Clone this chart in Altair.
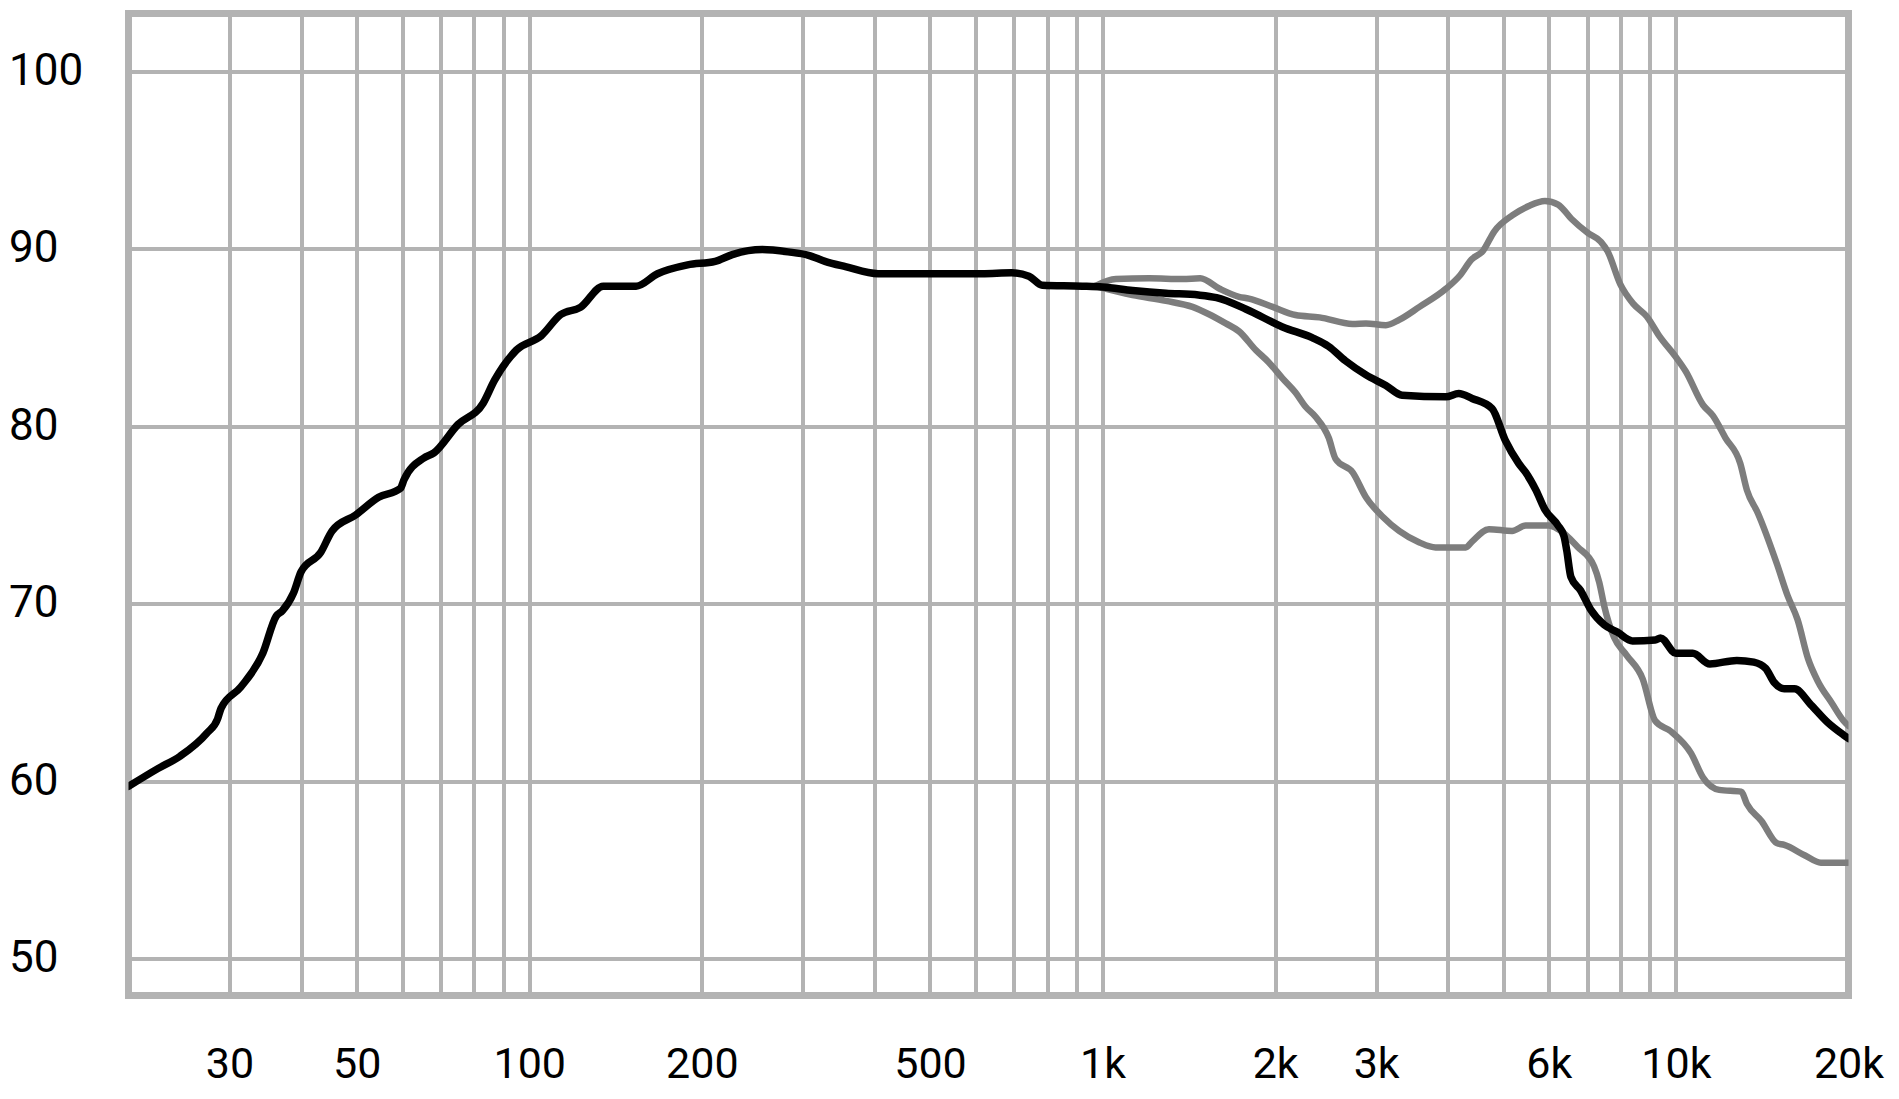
import altair as alt
import pandas as pd

# ---- data ----
on_f = [20, 22.5, 24.6, 27.4, 28.6, 29.0, 31.4, 34.3, 36.2, 37.1, 38.8, 40.0, 43.3, 45.3,
        49.8, 54.6, 59.6, 60.5, 65.4, 68.2, 75.1, 83.1, 87.0, 95.0, 104.9, 113.5, 122.8,
        134.6, 153.6, 167.4, 188.9, 211, 226, 241, 255, 283, 307, 328, 356, 406, 505, 616,
        694, 744, 785, 922, 1000, 1128, 1290, 1470, 1580, 1780, 2060, 2320, 2480, 2650,
        2880, 3120, 3330, 3970, 4180, 4410, 4780, 5040, 5320, 5470, 5700, 5910, 6230, 6380,
        6450, 6560, 6820, 7100, 7500, 7900, 8400, 9200, 9400, 10000, 10700, 11460, 12770,
        13670, 14340, 14830, 15450, 16100, 17200, 18400, 19600, 20000]
on_db = [59.7, 60.7, 61.4, 62.7, 63.5, 64.1, 65.3, 67.2, 69.3, 69.6, 70.6, 71.8, 72.9, 74.1,
         75.0, 76.0, 76.5, 77.0, 78.2, 78.5, 80.1, 81.3, 82.6, 84.3, 85.1, 86.3, 86.7,
         87.9, 87.9, 88.6, 89.1, 89.3, 89.68, 89.9, 89.96, 89.83, 89.64, 89.3, 89.0, 88.6, 88.6, 88.6,
         88.65, 88.46, 87.95, 87.9, 87.85, 87.66, 87.5, 87.4, 87.25, 86.6, 85.6, 85.0, 84.5, 83.7,
         82.9, 82.3, 81.75, 81.66, 81.85, 81.57, 81.0, 79.2, 77.9, 77.4, 76.4, 75.3, 74.4, 73.8,
         73.0, 71.5, 70.74, 69.67, 68.8, 68.4, 67.9, 67.95, 68.07, 67.2, 67.2, 66.6, 66.8,
         66.7, 66.35, 65.57, 65.2, 65.2, 64.3, 63.3, 62.6, 62.4]

up_f = [970, 1055, 1206, 1379, 1480, 1600, 1730, 1800, 1980, 2170, 2390, 2730, 2880, 3120,
        3290, 3570, 3970, 4200, 4400, 4610, 4820, 5190, 5540, 5910, 6230, 6570, 7020, 7400,
        7600, 8000, 8430, 8890, 9350, 10000, 10400, 11150, 11600, 12200, 12950, 13300, 13900,
        15000, 15660, 16300, 17000, 17700, 18700, 19600, 20000]
up_db = [87.9, 88.3, 88.34, 88.3, 88.34, 87.75, 87.3, 87.2, 86.73, 86.27, 86.14, 85.77, 85.8, 85.7,
         86.0, 86.73, 87.75, 88.5, 89.4, 89.9, 90.98, 91.9, 92.42, 92.7, 92.5, 91.7, 90.9, 90.4,
         89.87, 88.0, 86.9, 86.2, 85.1, 83.9, 83.1, 81.2, 80.6, 79.35, 77.9, 76.4, 75.1,
         72.25, 70.45, 69.1, 66.9, 65.6, 64.4, 63.4, 63.1]

lo_f = [970, 1128, 1290, 1435, 1530, 1640, 1730, 1850, 1950, 2060, 2170, 2260, 2350, 2480,
        2550, 2730, 2880, 3080, 3290, 3570, 3810, 4300, 4410, 4720, 5180, 5470, 6000, 6230,
        6740, 7200, 7350, 7500, 7800, 8200, 8750, 9200, 9800, 10630, 11150, 11900, 13000,
        13300, 14100, 15000, 15450, 16800, 17900, 19600, 20000]
lo_db = [87.9, 87.4, 87.07, 86.73, 86.33, 85.8, 85.35, 84.3, 83.6, 82.7, 81.9, 81.1, 80.55, 79.35,
         78.15, 77.4, 76.0, 74.9, 74.1, 73.45, 73.17, 73.17, 73.5, 74.2, 74.1, 74.4, 74.4, 74.2,
         73.2, 72.1, 71.2, 69.86, 68.1, 67.1, 65.76, 63.4, 62.8, 61.56, 60.2, 59.5, 59.4,
         58.7, 57.75, 56.5, 56.4, 55.8, 55.4, 55.4, 55.4]

x_grid = [30, 40, 50, 60, 70, 80, 90, 100, 200, 300, 400, 500, 600, 700, 800, 900,
          1000, 2000, 3000, 4000, 5000, 6000, 7000, 8000, 9000, 10000, 20000]
x_labeled = [30, 50, 100, 200, 500, 1000, 2000, 3000, 6000, 10000, 20000]
y_ticks = [50, 60, 70, 80, 90, 100]

on_df = pd.DataFrame({"f": on_f, "db": on_db})
up_df = pd.DataFrame({"f": up_f, "db": up_db})
lo_df = pd.DataFrame({"f": lo_f, "db": lo_db})

FONT = "Roboto"
GRID = "#b3b3b3"

lab_list = ",".join(str(v) for v in x_labeled)
label_expr = (f"indexof([{lab_list}], datum.value) >= 0 ? "
              "(datum.value >= 1000 ? format(datum.value / 1000, 'd') + 'k' : format(datum.value, 'd')) : ''")

x_enc = alt.X("f:Q",
              scale=alt.Scale(type="log", domain=[20, 20000], nice=False),
              axis=alt.Axis(values=x_grid, labelExpr=label_expr, title=None, ticks=False,
                            domain=False, grid=True, gridColor=GRID, gridWidth=4,
                            labelOverlap=False, labelFlush=False, labelFont=FONT,
                            labelFontSize=43, labelColor="#000000", labelPadding=69,
                            labelBaseline="middle"))
y_enc = alt.Y("db:Q",
              scale=alt.Scale(domain=[47.91, 103.27], nice=False, zero=False),
              axis=alt.Axis(values=y_ticks, title=None, ticks=False, domain=False, grid=True,
                            gridColor=GRID, gridWidth=4, labelFont=FONT, labelFontSize=44,
                            labelColor="#000000", labelAlign="left", labelPadding=120,
                            labelBaseline="middle"))

gray = "#7d7d7d"
up_line = alt.Chart(up_df).mark_line(color=gray, strokeWidth=6.5, interpolate="monotone",
                                     clip=True, strokeJoin="round", strokeCap="round").encode(x=x_enc, y=y_enc)
lo_line = alt.Chart(lo_df).mark_line(color=gray, strokeWidth=6.5, interpolate="monotone",
                                     clip=True, strokeJoin="round", strokeCap="round").encode(x=x_enc, y=y_enc)
on_line = alt.Chart(on_df).mark_line(color="#000000", strokeWidth=7.5, interpolate="monotone",
                                     clip=True, strokeJoin="round", strokeCap="round").encode(x=x_enc, y=y_enc)

chart = alt.layer(up_line, lo_line, on_line).properties(
    width=1720, height=982,
    autosize=alt.AutoSizeParams(type="none"),
    padding={"left": 120.5, "top": 5.5, "right": 40, "bottom": 95},
    background="#ffffff",
).configure_view(stroke=GRID, strokeWidth=7)

chart.save("out.html", embed_options={"renderer": "svg", "actions": False})
